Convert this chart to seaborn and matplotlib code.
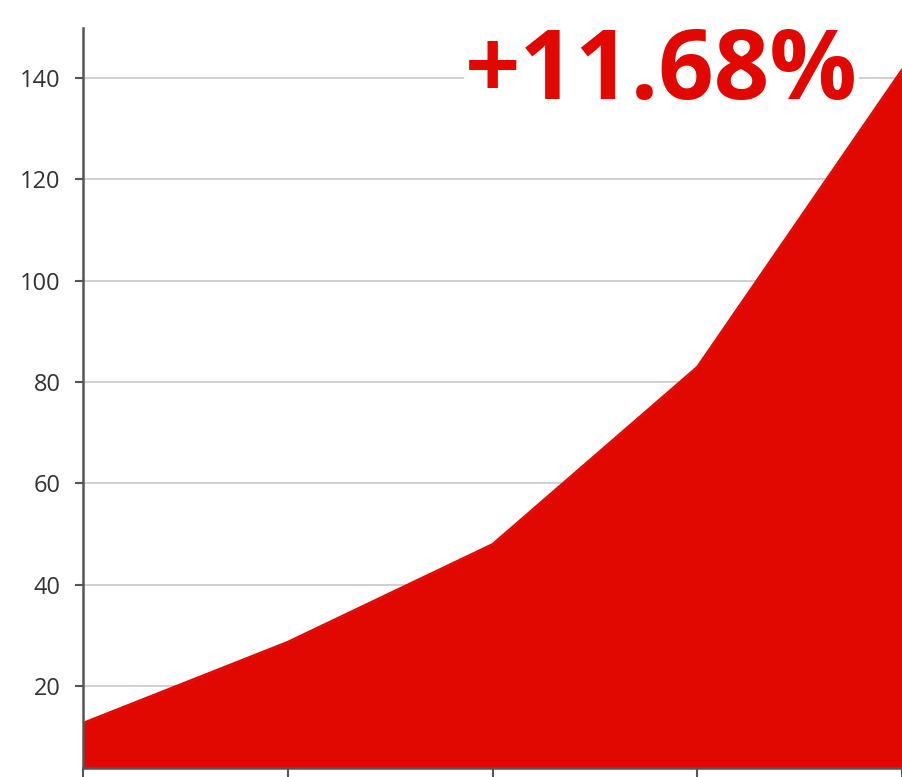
import seaborn as sns
import matplotlib.pyplot as plt
import pandas as pd

# Data
periods = [0, 1, 2, 3, 4]
values = [12.7, 28.7, 48.0, 83.0, 141.7]
yticks = [20, 40, 60, 80, 100, 120, 140]
growth_label = "+11.68%"

df = pd.DataFrame({"period": periods, "value": values})

red = "#e00800"

sns.set_theme(style="white")
plt.rcParams["font.family"] = ["Open Sans", "DejaVu Sans"]

fig = plt.figure(figsize=(9.02, 7.77), dpi=100)
ax = fig.add_axes([83 / 902, 9 / 777, 819 / 902, 740 / 777])

sns.lineplot(data=df, x="period", y="value", color=red, linewidth=1.5, ax=ax, zorder=3)
ax.fill_between(df["period"], df["value"], 0, color=red, linewidth=0, zorder=3)

ax.set_xlim(0, 4)
ax.set_ylim(3.8, 149.9)
ax.set_yticks(yticks)
ax.set_xticks(periods)
ax.set_xticklabels([])
ax.set_xlabel("")
ax.set_ylabel("")

ax.grid(axis="y", color="#c8c8c8", linewidth=1.2, zorder=1)
ax.grid(axis="x", visible=False)

for side in ["top", "right"]:
    ax.spines[side].set_visible(False)
for side in ["left", "bottom"]:
    ax.spines[side].set_color("#555555")
    ax.spines[side].set_linewidth(1.8)
    ax.spines[side].set_zorder(4)

ax.tick_params(axis="y", length=6, width=1.5, color="#555555", labelsize=17,
               labelcolor="#333333", pad=10, left=True)
ax.tick_params(axis="x", length=9, width=1.5, color="#555555", bottom=True)

# Big growth label in the top right corner (white box hides the grid line, not the fill)
ax.text(0.946, 1.004, growth_label, transform=ax.transAxes, ha="right", va="top",
        fontsize=70, fontweight="bold", color=red, zorder=2,
        bbox=dict(facecolor="white", edgecolor="none", pad=1))

fig.savefig("out.png", dpi=100)
